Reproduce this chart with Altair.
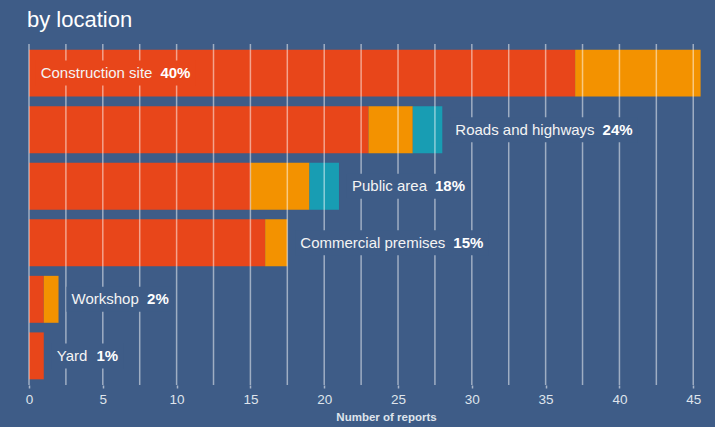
import altair as alt
import pandas as pd

# ---- data ----
locations = ["Construction site", "Roads and highways", "Public area",
             "Commercial premises", "Workshop", "Yard"]
seg_red = [37, 23, 15, 16, 1, 1]
seg_orange = [8.5, 3, 4, 1.5, 1, 0]
seg_teal = [0, 2, 2, 0, 0, 0]
segment_names = ["A", "B", "C"]
grid_ticks = [0, 2.5, 5, 7.5, 10, 12.5, 15, 17.5, 20, 22.5, 25, 27.5,
              30, 32.5, 35, 37.5, 40, 42.5, 45]

# ---- style ----
BG = "#3e5c87"
RED = "#e8461a"
ORANGE = "#f39200"
TEAL = "#189db3"
FONT = "Liberation Sans"
W, H = 679, 341
XMAX = 46
PPU = W / XMAX
NAME_SIZE = 15

# Arial / Liberation Sans advance widths (per 1000 em)
REG = {' ': 278, 'a': 556, 'b': 556, 'c': 500, 'd': 556, 'e': 556, 'f': 278,
       'g': 556, 'h': 556, 'i': 222, 'j': 222, 'k': 500, 'l': 222, 'm': 833,
       'n': 556, 'o': 556, 'p': 556, 'q': 556, 'r': 333, 's': 500, 't': 278,
       'u': 556, 'v': 500, 'w': 722, 'x': 500, 'y': 500, 'z': 500,
       'A': 667, 'C': 722, 'P': 667, 'R': 722, 'W': 944, 'Y': 667}
BOLD = {'%': 889}


def text_w(s, size, bold=False):
    tot = 0
    for ch in s:
        if ch.isdigit():
            tot += 556
        elif bold and ch in BOLD:
            tot += BOLD[ch]
        else:
            tot += REG.get(ch, 556)
    return tot / 1000 * size


totals = [r + o + t for r, o, t in zip(seg_red, seg_orange, seg_teal)]
grand = sum(totals)
pcts = [f"{round(t / grand * 100)}%" for t in totals]

rows = []
for i, loc in enumerate(locations):
    for j, vals in enumerate([seg_red, seg_orange, seg_teal]):
        rows.append({"location": loc, "segment": segment_names[j],
                     "order": j, "value": vals[i]})
bars_df = pd.DataFrame(rows)

lab_rows = []
biggest = max(totals)
for i, loc in enumerate(locations):
    inside = totals[i] == biggest
    name_px = 11.7 if inside else totals[i] * PPU + 13
    pct_px = name_px + text_w(loc, NAME_SIZE) + 8
    end_px = pct_px + text_w(pcts[i], NAME_SIZE, True)
    lab_rows.append({
        "location": loc, "name": loc, "pct": pcts[i],
        "name_x": name_px / PPU, "pct_x": pct_px / PPU,
        "m0": (name_px - 5) / PPU, "m1": (end_px + 5) / PPU,
        "mask": RED if inside else BG,
    })
lab_df = pd.DataFrame(lab_rows)
grid_df = pd.DataFrame({"g": grid_ticks})

yenc = alt.Y("location:N", sort=locations, axis=None,
             scale=alt.Scale(paddingInner=0.17, paddingOuter=0.1))
xscale = alt.Scale(domain=[0, XMAX], nice=False, zero=True)

bars = alt.Chart(bars_df).mark_bar().encode(
    x=alt.X("value:Q", stack="zero", scale=xscale,
            title="Number of reports",
            axis=alt.Axis(values=grid_ticks, grid=False, domain=False,
                          labelExpr="datum.value % 5 == 0 ? datum.label : ''",
                          tickColor="rgba(255,255,255,0.55)", tickSize=3,
                          tickWidth=1.5, labelColor="#dfe4ec",
                          labelFontSize=13.5, labelFont=FONT, labelPadding=4,
                          labelFlush=False,
                          titleColor="#dfe4ec", titleFontSize=11.5,
                          titleFont=FONT, titleFontWeight="bold",
                          titleX=357, titleY=35, titleAlign="center",
                          titleBaseline="alphabetic")),
    y=yenc,
    color=alt.Color("segment:N", legend=None,
                    scale=alt.Scale(domain=segment_names,
                                    range=[RED, ORANGE, TEAL])),
    order=alt.Order("order:Q"),
)

grid = alt.Chart(grid_df).mark_rule(
    color="white", opacity=0.5, strokeWidth=1.5
).encode(x=alt.X("g:Q", scale=xscale))

mask = alt.Chart(lab_df).mark_bar(size=25).encode(
    x=alt.X("m0:Q", scale=xscale), x2="m1:Q", y=yenc,
    color=alt.Color("mask:N", scale=None),
)

names = alt.Chart(lab_df).mark_text(
    align="left", baseline="middle", font=FONT, fontSize=NAME_SIZE,
    color="#f4f4f4"
).encode(x=alt.X("name_x:Q", scale=xscale), y=yenc, text="name:N")

pct_text = alt.Chart(lab_df).mark_text(
    align="left", baseline="middle", font=FONT, fontSize=NAME_SIZE,
    fontWeight="bold", color="#ffffff"
).encode(x=alt.X("pct_x:Q", scale=xscale), y=yenc, text="pct:N")

chart = alt.layer(bars, grid, mask, names, pct_text).properties(
    width=W, height=H, background=BG,
    padding={"left": 29, "top": 44, "right": 7, "bottom": 42},
    autosize=alt.AutoSizeParams(type="none"),
    title=alt.TitleParams("by location", anchor="start", frame="group",
                          fontSize=22, font=FONT, fontWeight="normal",
                          color="white", baseline="alphabetic", offset=18,
                          dx=-2, dy=24),
).configure_view(stroke=None)

chart.save("out.html", embed_options={"renderer": "svg", "actions": False})
